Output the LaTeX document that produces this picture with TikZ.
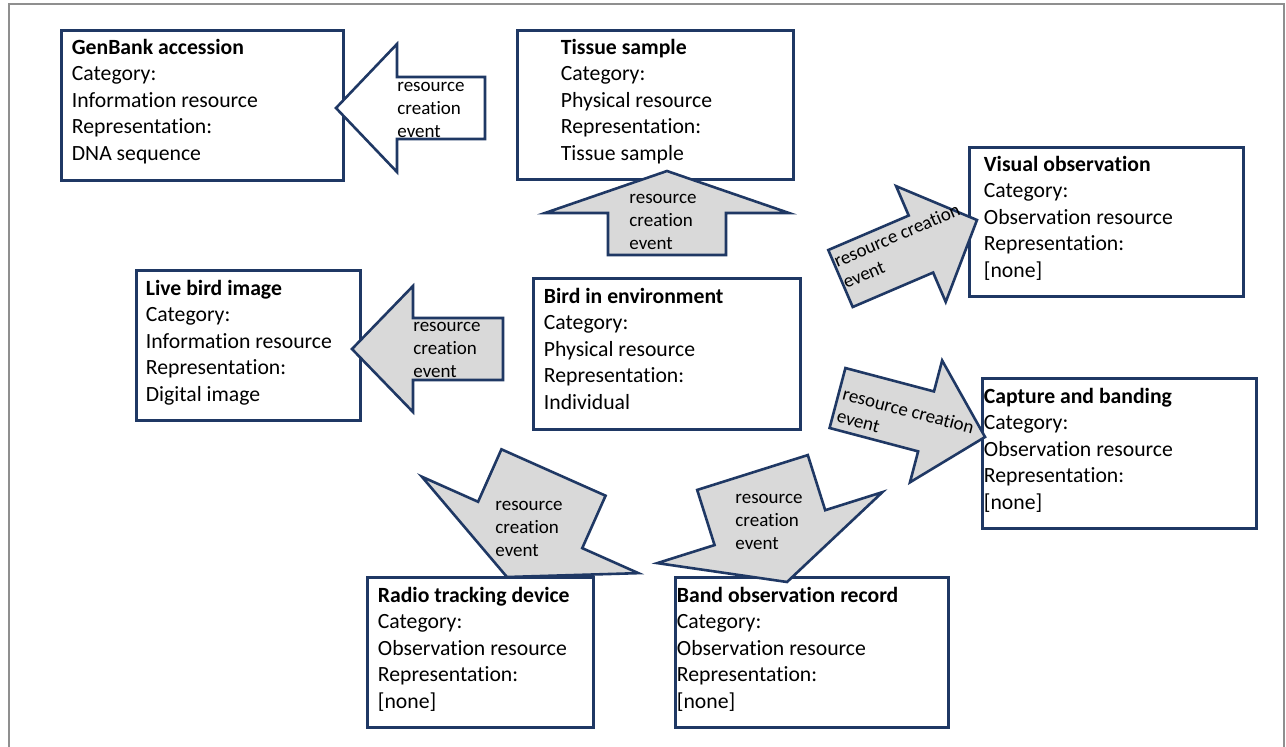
\documentclass[tikz,border=0pt]{standalone}
\usepackage{fontspec}
\setmainfont{Carlito}[Ligatures=NoCommon]
\definecolor{navy}{HTML}{1F3864}
\definecolor{arrowgrey}{HTML}{D9D9D9}
\definecolor{framegrey}{HTML}{8F8F8F}

% Block arrow: tail centre x, tail centre y, direction (deg), length,
% shaft half-width, head half-width, head length, fill colour
\newcommand{\resarrow}[8]{%
  \begin{scope}[shift={(#1,#2)}, rotate=#3]
    \draw[arrbody, fill=#8] (0,-#5) -- ({#4-#7},-#5) -- ({#4-#7},-#6) -- (#4,0)
      -- ({#4-#7},#6) -- ({#4-#7},#5) -- (0,#5) -- cycle;
  \end{scope}}

\begin{document}
\begin{tikzpicture}[x=0.5pt, y=-0.5pt,
  box/.style={draw=navy, line width=1.5pt, fill=white, inner sep=0pt},
  boxtext/.style={anchor=north west, inner sep=0pt, align=left,
    font=\fontsize{10.85}{13.25}\selectfont},
  arrtext/.style={anchor=north west, inner sep=0pt, align=left,
    font=\fontsize{9.5}{11.5}\selectfont},
  arrbody/.style={draw=navy, line width=1.3pt, line join=miter}]

\useasboundingbox (0,0) rectangle (1286,746);
\clip (0,0) rectangle (1286,746);
\fill[white] (0,0) rectangle (1286,746);

% outer frame
\draw[framegrey, line width=1.2pt] (9,760) -- (9,4) -- (1284,4) -- (1284,760);

% resource boxes
\node[box, minimum width=141pt, minimum height=75pt] (genbank) at (202,105) {};
\node[boxtext] (genbank-t) at ([shift={(12,7)}]genbank.north west)
  {\strut\textbf{GenBank accession}\\Category:\\Information resource\\Representation:\\DNA sequence};

\node[box, minimum width=138pt, minimum height=74.5pt] (tissue) at (655,104.5) {};
\node[boxtext] (tissue-t) at ([shift={(45,7)}]tissue.north west)
  {\strut\textbf{Tissue sample}\\Category:\\Physical resource\\Representation:\\Tissue sample};

\node[box, minimum width=137pt, minimum height=74.5pt] (visual) at (1106,221.5) {};
\node[boxtext] (visual-t) at ([shift={(16,7)}]visual.north west)
  {\strut\textbf{Visual observation}\\Category:\\Observation resource\\Representation:\\{[none]}};

\node[box, minimum width=112pt, minimum height=75pt] (livebird) at (248,345) {};
\node[boxtext] (livebird-t) at ([shift={(11,8)}]livebird.north west)
  {\strut\textbf{Live bird image}\\Category:\\Information resource\\Representation:\\Digital image};

\node[box, minimum width=133.5pt, minimum height=75.5pt] (bird) at (666.5,353.5) {};
\node[boxtext] (bird-t) at ([shift={(12,8)}]bird.north west)
  {\strut\textbf{Bird in environment}\\Category:\\Physical resource\\Representation:\\Individual};

\node[box, minimum width=137pt, minimum height=75pt] (capture) at (1119,453) {};
\node[boxtext] (capture-t) at ([shift={(3,8)}]capture.north west)
  {\strut\textbf{Capture and banding}\\Category:\\Observation resource\\Representation:\\{[none]}};

\node[box, minimum width=113pt, minimum height=75pt] (radio) at (480,652) {};
\node[boxtext] (radio-t) at ([shift={(12,8)}]radio.north west)
  {\strut\textbf{Radio tracking device}\\Category:\\Observation resource\\Representation:\\{[none]}};

\node[box, minimum width=136.5pt, minimum height=75pt] (band) at (811.5,652) {};
\node[boxtext] (band-t) at ([shift={(3,8)}]band.north west)
  {\strut\textbf{Band observation record}\\Category:\\Observation resource\\Representation:\\{[none]}};

% resource creation events
\resarrow{485}{108}{180}{149}{31}{64}{61}{white}
\resarrow{667}{255}{90}{84}{59}{122}{42}{arrowgrey}
\resarrow{503}{349}{180}{151}{31}{63}{61}{arrowgrey}
\resarrow{840.5}{278.5}{23.2}{148.5}{31}{63}{61}{arrowgrey}
\resarrow{837.5}{398}{-14.8}{152.6}{31}{63}{61}{arrowgrey}
\resarrow{553.5}{472.5}{-114}{114.4}{57}{118.5}{57}{arrowgrey}
\resarrow{752.5}{472.5}{-72.5}{114.8}{58}{118}{57}{arrowgrey}

\node[arrtext] (ev-genbank) at (397,74.5) {\strut resource\\creation\\event};
\node[arrtext] (ev-tissue) at (629,187.4) {\strut resource\\creation\\event};
\node[arrtext] (ev-livebird) at (413,315.4) {\strut resource\\creation\\event};
\node[arrtext] (ev-radio) at (495,494.4) {\strut resource\\creation\\event};
\node[arrtext] (ev-band) at (735,487.4) {\strut resource\\creation\\event};
\begin{scope}[shift={(840.5,278.5)}, rotate=23.2]
  \node[arrtext, transform shape] (ev-visual) at (1,-27.7) {\strut resource creation\\event};
\end{scope}
\begin{scope}[shift={(837.5,398)}, rotate=-14.8]
  \node[arrtext, transform shape] (ev-capture) at (4,-16) {\strut resource creation\\event};
\end{scope}

\end{tikzpicture}
\end{document}
